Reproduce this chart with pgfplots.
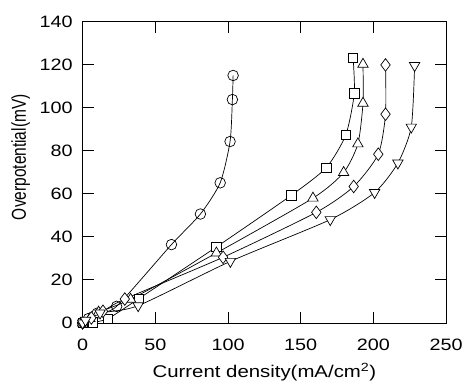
\documentclass[border=0pt]{standalone}
\usepackage{pgfplots}
\pgfplotsset{compat=1.18}
\usepackage{fontspec}
\setmainfont{Liberation Sans}[FakeStretch=1.2]
\newfontfamily\ylfont{Liberation Sans}
\begin{document}
\begin{tikzpicture}
\begin{axis}[
  scale only axis,
  width=364pt, height=301.6pt,
  xmin=0, xmax=250, ymin=0, ymax=140,
  xtick={0,50,...,250}, ytick={0,20,...,140},
  minor tick num=0,
  major tick length=11pt,
  tick align=inside,
  axis line style={line width=0.8pt},
  every tick/.style={black, line width=0.8pt},
  /pgf/number format/assume math mode=true,
  tick label style={font=\fontsize{16.5}{19}\selectfont},
  xticklabel style={yshift=-13pt},
  yticklabel style={xshift=-6.5pt},
  xlabel={Current density(mA/cm\textsuperscript{2})},
  ylabel={\scalebox{1}[1.3]{\ylfont\fontsize{15.5}{18}\selectfont Overpotential(mV)}},
  xlabel style={font=\fontsize{17}{20}\selectfont, at={(axis description cs:0.5,0)}, anchor=base, yshift=-55pt},
  ylabel style={at={(axis description cs:-0.17,0.55)}, anchor=center},
  clip=false,
]
\addplot[black, line width=0.7pt, smooth, tension=0.4, mark=o, mark size=5.3pt, mark options={fill=white, draw=black, solid}] coordinates {
(0,0) (4,2) (10,4.5) (23.4,7.7) (61.1,36.4) (81,50.6) (94.6,65.1) (101.4,84.3) (103,103.8) (103.5,115)};
\addplot[black, line width=0.7pt, smooth, tension=0.4, mark=square*, mark size=4.7pt, mark options={fill=white, draw=black, solid}] coordinates {
(0,0) (7,0.3) (17.5,2) (38.7,11.3) (92,35.3) (143.5,59.3) (167.6,72.2) (181,87.4) (186.8,106.6) (186,123.3)};
\addplot[black, line width=0.7pt, smooth, tension=0.4, mark=triangle*, mark size=6pt, mark options={fill=white, draw=black, solid}] coordinates {
(0,0) (5,2) (11,5) (33,11) (92,32.5) (158.4,58) (179.5,69.9) (189.3,83.2) (192.8,102.1) (192.8,120.2)};
\addplot[black, line width=0.7pt, smooth, tension=0.4, mark=diamond*, mark size=6.3pt, mark options={fill=white, draw=black, solid}] coordinates {
(0,0) (6,2.3) (14,5.4) (29,11.1) (96.6,30.5) (160.7,51.4) (186.4,63.4) (203.3,78.4) (208.3,97) (208.3,119.9)};
\addplot[black, line width=0.7pt, smooth, tension=0.4, mark=triangle*, mark size=6pt, mark options={fill=white, draw=black, solid, rotate=180}] coordinates {
(0,0) (2,1.2) (12,4.6) (38.2,8) (101.6,28.6) (170.3,48) (200.8,60.6) (216.8,74.3) (226,91) (228.3,119.6)};
\end{axis}
\path (current axis.south west) ++(-82.7pt,-63.7pt) rectangle ++(466pt,387pt);
\end{tikzpicture}
\end{document}
